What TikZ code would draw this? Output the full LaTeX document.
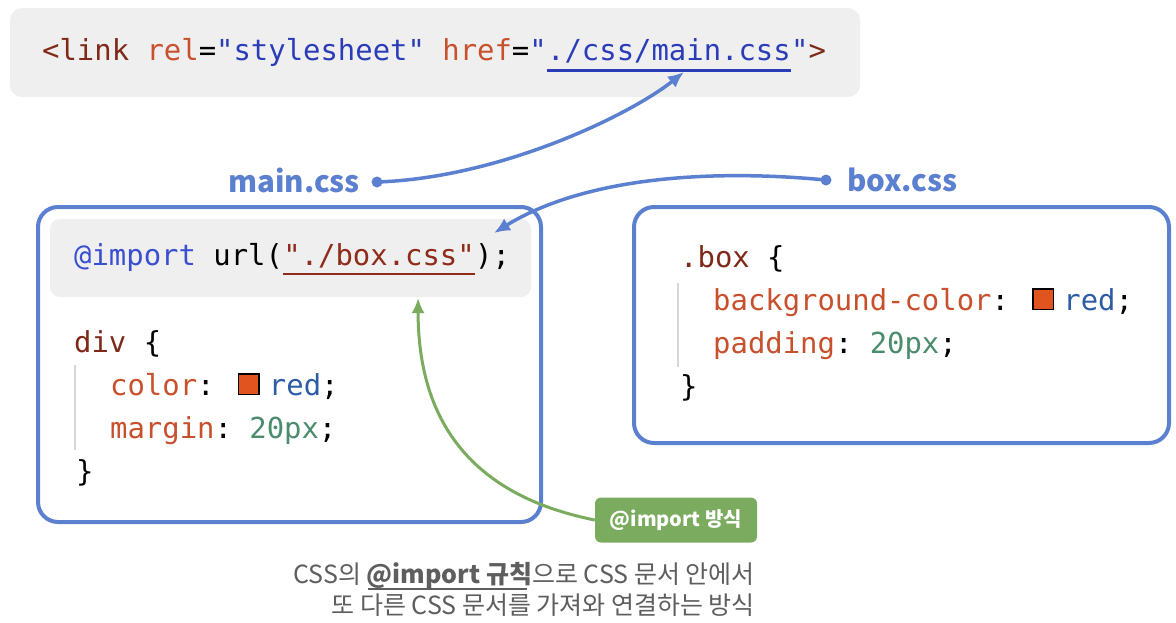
\documentclass[tikz,border=0pt]{standalone}
\usepackage{fontspec}
\setmainfont{Noto Sans CJK KR}
\setmonofont{DejaVu Sans Mono}
\usepackage{tikz}
\usetikzlibrary{arrows.meta,positioning,calc}

\definecolor{fileblue}{HTML}{5B80CF}
\definecolor{codebg}{HTML}{EFEFEF}
\definecolor{tagbrown}{HTML}{7F2A18}
\definecolor{propred}{HTML}{C8502C}
\definecolor{strblue}{HTML}{2B3CB8}
\definecolor{strbrown}{HTML}{8E2B1A}
\definecolor{kwblue}{HTML}{3A4FD0}
\definecolor{valblue}{HTML}{2D5CA6}
\definecolor{numgreen}{HTML}{4A8C6C}
\definecolor{swatchred}{HTML}{E2541F}
\definecolor{importgreen}{HTML}{7AAB5E}
\definecolor{captiongray}{HTML}{5E5E5E}
\definecolor{guidegray}{HTML}{D6D6D6}

\begin{document}
\begin{tikzpicture}[
  x=1pt, y=-1pt,
  codeline/.style={font=\ttfamily\fontsize{28.9}{34}\selectfont, inner sep=0pt, anchor=base west},
  codepanel/.style={fill=codebg, rounded corners=12pt},
  filebox/.style={draw=fileblue, line width=4pt, rounded corners=20pt},
  filename/.style={font=\bfseries\fontsize{29.5}{34}\selectfont, text=fileblue, inner sep=0pt, anchor=base west},
  swatch/.style={draw=black, line width=1.5pt, fill=swatchred, minimum size=20.5pt, inner sep=0pt, anchor=west},
  guide/.style={guidegray, line width=2pt},
  dotstart/.style={circle, fill=fileblue, inner sep=0pt, minimum size=11pt},
  filelink/.style={fileblue, line width=3.5pt, -{Latex[length=16pt,width=14pt]}},
  importlink/.style={importgreen, line width=3pt, -{Latex[length=15pt,width=13pt]}},
  tagbox/.style={fill=importgreen, rounded corners=6pt, text=white, font=\bfseries\fontsize{20}{24}\selectfont, minimum width=162pt, minimum height=45pt},
  captiontext/.style={font=\fontsize{25}{30}\selectfont, text=captiongray, inner sep=0pt, anchor=base east}
]
\useasboundingbox (0,0) rectangle (1176,622);
\fill[white] (0,0) rectangle (1176,622);

\fill[codepanel] (10,8) rectangle (860,97);
\node[codeline] (linkpre) at (42,60) {\textcolor{tagbrown}{<link} \textcolor{propred}{rel}=\textcolor{strblue}{"stylesheet"} \textcolor{propred}{href}=\textcolor{strblue}{"}};
\node[codeline] (linkurl) at (linkpre.base east) {\textcolor{strblue}{./css/main.css}};
\node[codeline] (linkpost) at (linkurl.base east) {\textcolor{strblue}{"}\textcolor{tagbrown}{>}};
\draw[strblue, line width=3pt] ([yshift=-10pt]linkurl.base west) -- ([yshift=-10pt]linkurl.base east);

\node[filename] (mainname) at (228,192) {main.css};
\node[dotstart] (maindot) at (377,182) {};
\node[filename] (boxname) at (847,191) {box.css};
\node[dotstart] (boxdot) at (826,180) {};

\draw[filebox] (38,207) rectangle (541,522);
\fill[codepanel, rounded corners=10pt] (50,219) rectangle (531,297);
\node[codeline] (importpre) at (74,265) {\textcolor{kwblue}{@import} url(};
\node[codeline] (importurl) at (importpre.base east) {\textcolor{strbrown}{"./box.css"}};
\node[codeline] (importpost) at (importurl.base east) {);};
\draw[strbrown, line width=2.5pt] ([yshift=-9pt]importurl.base west) -- ([yshift=-9pt]importurl.base east);

\node[codeline] (divsel) at (74,352) {\textcolor{tagbrown}{div} \{};
\node[codeline] (colorkey) at (110,395) {\textcolor{propred}{color}:};
\node[swatch] (colorswatch) at ([xshift=23pt, yshift=11pt]colorkey.base east) {};
\node[codeline] (colorval) at ($(colorswatch.east |- colorkey.base)+(9,0)$) {\textcolor{valblue}{red};};
\node[codeline] (marginline) at (110,438) {\textcolor{propred}{margin}: \textcolor{numgreen}{20px};};
\node[codeline] (divclose) at (76,481) {\}};
\draw[guide] (75,365) -- (75,450);

\draw[filebox] (634,207) rectangle (1169,443);
\node[codeline] (boxsel) at (680,267) {\textcolor{tagbrown}{.box} \{};
\node[codeline] (bgkey) at (713,310) {\textcolor{propred}{background-color}:};
\node[swatch] (bgswatch) at ([xshift=23pt, yshift=11pt]bgkey.base east) {};
\node[codeline] (bgval) at ($(bgswatch.east |- bgkey.base)+(9,0)$) {\textcolor{valblue}{red};};
\node[codeline] (paddingline) at (713,353) {\textcolor{propred}{padding}: \textcolor{numgreen}{20px};};
\node[codeline] (boxclose) at (680,396) {\}};
\draw[guide] (678,283) -- (678,367);

\coordinate (linktip) at ($(linkurl.base)+(15,12)$);
\coordinate (importtip) at ($(importurl.base east)+(19,-32)$);
\coordinate (ruletip) at ($(importurl.base)+(39,33)$);

\draw[filelink] (maindot.center) .. controls (500,178) and (630,115) .. (linktip);
\draw[filelink] (boxdot.center) .. controls (700,168) and (580,180) .. (importtip);

\node[tagbox] (importtag) at (676,520) {@import 방식};
\draw[importlink] (importtag.west) .. controls (470,495) and (418,420) .. (ruletip);

\node[captiontext] (captiontop) at (755,583) {CSS의 \textbf{@import 규칙}으로 CSS 문서 안에서};
\node[captiontext] (captionbottom) at (755,614) {또 다른 CSS 문서를 가져와 연결하는 방식};
\draw[captiongray, line width=1.5pt] (368,589) -- (527,589);
\end{tikzpicture}
\end{document}
